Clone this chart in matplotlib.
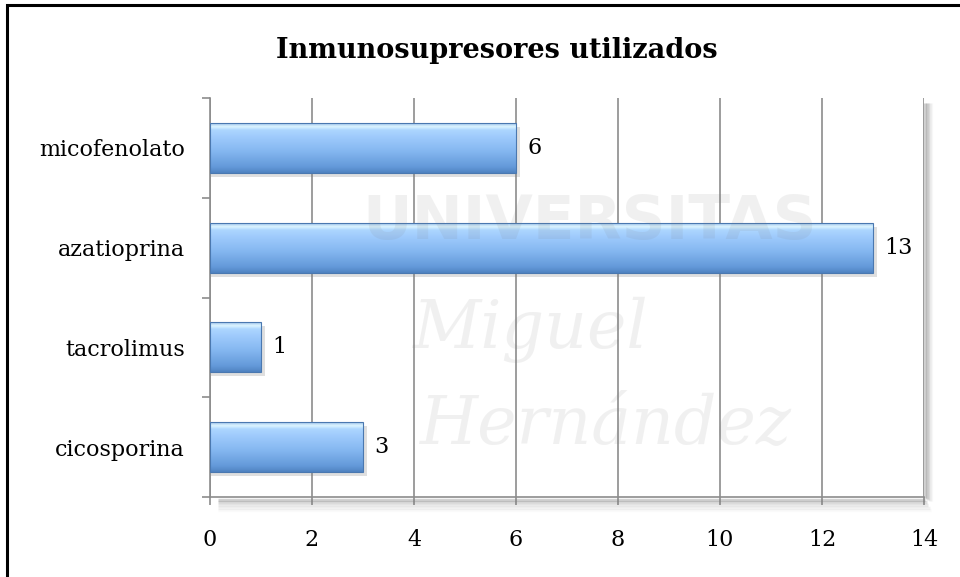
import numpy as np
import matplotlib.pyplot as plt
from matplotlib.colors import LinearSegmentedColormap
from matplotlib.patches import Rectangle

# Datos del gráfico
categorias = ["cicosporina", "tacrolimus", "azatioprina", "micofenolato"]
valores = [3, 1, 13, 6]
xticks = [0, 2, 4, 6, 8, 10, 12, 14]
titulo = "Inmunosupresores utilizados"

serif = ["DejaVu Serif"]

fig = plt.figure(figsize=(9.6, 5.77), dpi=100)
ax = fig.add_axes([210 / 960, 1 - 497 / 577, 714 / 960, 399 / 577])

# marco exterior (solo se ven borde izquierdo y superior)
fig.add_artist(Rectangle((7 / 960, -0.1), 1.2, 1 - 5 / 577 + 0.1, transform=fig.transFigure,
                         fill=False, edgecolor="black", linewidth=2.2, zorder=0))

ax.set_xlim(0, 14)
ax.set_ylim(-0.5, len(categorias) - 0.5)

# sombra del área de trazado (derecha y abajo)
for i, a in enumerate([0.35, 0.25, 0.16, 0.09, 0.04]):
    off = (i + 1) * 0.03
    ax.plot([14 + off * 0.9, 14 + off * 0.9], [-0.5 - off * 0.3, 3.5 - 0.05],
            color="gray", alpha=a, lw=2.5, clip_on=False, zorder=1, solid_capstyle="butt")
    ax.plot([0.15, 14 + off * 0.9], [-0.5 - off * 0.9, -0.5 - off * 0.9],
            color="gray", alpha=a, lw=2.5, clip_on=False, zorder=1, solid_capstyle="butt")

ax.grid(axis="x", color="#8c8c8c", linewidth=1.2, zorder=1)
ax.set_axisbelow(True)

# degradado de las barras
cmap = LinearSegmentedColormap.from_list("barra", [
    (0.0, "#4f82c0"), (0.12, "#6399d9"), (0.45, "#86b8f1"),
    (0.72, "#9ecafc"), (0.86, "#acd6ff"), (0.93, "#dcf4ff"), (1.0, "#9cc2ea")])
grad = np.linspace(0, 1, 256).reshape(-1, 1)
alto = 0.5
for y, v in enumerate(valores):
    # sombra de la barra
    ax.add_patch(Rectangle((0.02, y - alto / 2 - 0.04), v + 0.05, alto, color="gray",
                           alpha=0.25, zorder=2, linewidth=0))
    ax.imshow(grad, cmap=cmap, aspect="auto", origin="lower",
              extent=[0, v, y - alto / 2, y + alto / 2], zorder=3)
    ax.add_patch(Rectangle((0, y - alto / 2), v, alto, fill=False,
                           edgecolor="#4a78b0", linewidth=0.8, zorder=4))
    ax.text(v + 0.22, y, str(v), va="center", ha="left", fontsize=16,
            family=serif, color="black", zorder=5)

ax.set_xlim(0, 14)
ax.set_ylim(-0.5, len(categorias) - 0.5)

ax.set_xticks(xticks)
ax.set_xticklabels([str(t) for t in xticks], family=serif, fontsize=16)
ax.set_yticks(range(len(categorias)))
ax.set_yticklabels(categorias, family=serif, fontsize=16)
ax.tick_params(axis="y", length=0, pad=18)
ax.tick_params(axis="x", length=6, color="#8c8c8c", width=1.2, pad=17)
ax.set_yticks([-0.5, 0.5, 1.5, 2.5, 3.5], minor=True)
ax.tick_params(axis="y", which="minor", length=6, color="#8c8c8c", width=1.2)

for s in ["top", "right"]:
    ax.spines[s].set_visible(False)
for s in ["left", "bottom"]:
    ax.spines[s].set_color("#8c8c8c")
    ax.spines[s].set_linewidth(1.2)

# marca de agua del documento original
wm = dict(color="#7f7f7f", alpha=0.11, zorder=6, transform=fig.transFigure)
fig.text(590 / 960, 1 - 222 / 577, "UNIVERSITAS", ha="center", va="center",
         fontsize=44, fontweight="bold", family="DejaVu Sans", **wm)
fig.text(530 / 960, 1 - 330 / 577, "Miguel", ha="center", va="center",
         fontsize=48, style="italic", family=serif, **wm)
fig.text(605 / 960, 1 - 425 / 577, "Hernández", ha="center", va="center",
         fontsize=48, style="italic", family=serif, **wm)

fig.text(497 / 960, 1 - 50 / 577, titulo, ha="center", va="center",
         fontsize=19.5, fontweight="bold", family=serif)

fig.savefig("out.png", dpi=100)
